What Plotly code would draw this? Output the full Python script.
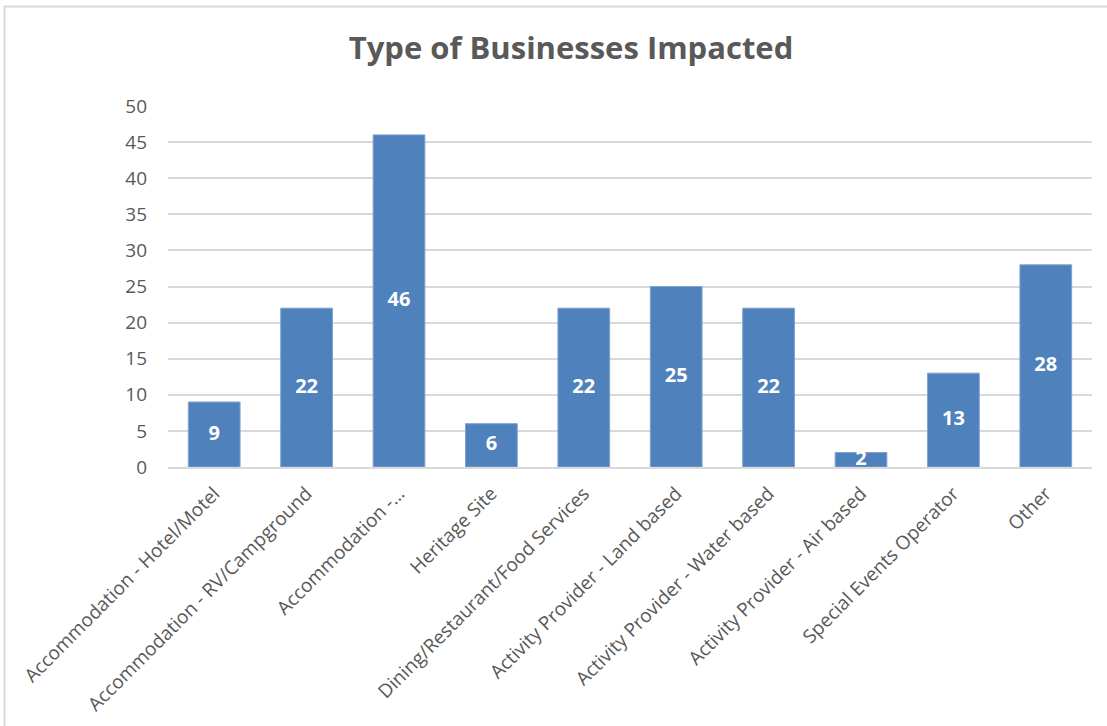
import plotly.graph_objects as go

# Business categories and the number impacted in each
categories = [
    "Accommodation - Hotel/Motel",
    "Accommodation - RV/Campground",
    "Accommodation -…",
    "Heritage Site",
    "Dining/Restaurant/Food Services",
    "Activity Provider - Land based",
    "Activity Provider - Water based",
    "Activity Provider - Air based",
    "Special Events Operator",
    "Other",
]
counts = [9, 22, 46, 6, 22, 25, 22, 2, 13, 28]

y_ticks = [0, 5, 10, 15, 20, 25, 30, 35, 40, 45, 50]

W, H = 1107, 726
L, R, T, B = 168, 15, 106, 259
pw, ph = W - L - R, H - T - B

def px_x(px):
    return (px - L) / pw

def px_y(py):
    return (H - B - py) / ph

GRAY = "#595959"
BLUE = "#4F81BD"
FONT = "Open Sans"

fig = go.Figure()
fig.add_trace(go.Bar(
    x=categories,
    y=counts,
    marker=dict(color=BLUE, line=dict(color="#7ea3d1", width=1)),
    hoverinfo="x+y",
))
# value labels centred on each bar
fig.add_trace(go.Scatter(
    x=categories,
    y=[v / 2 for v in counts],
    text=[str(v) for v in counts],
    mode="text",
    textfont=dict(family=FONT, size=20, color="white", weight="bold"),
    hoverinfo="skip",
))

fig.update_layout(
    width=W,
    height=H,
    margin=dict(l=L, r=R, t=T, b=B),
    paper_bgcolor="white",
    plot_bgcolor="white",
    showlegend=False,
    bargap=0.44,
    font=dict(family=FONT, color=GRAY),
    title=dict(
        text="<b>Type of Businesses Impacted</b>",
        font=dict(family=FONT, size=31, color=GRAY),
        x=px_x(571),
        xref="paper",
        xanchor="center",
        y=1 - 48 / H,
        yref="container",
        yanchor="middle",
    ),
    xaxis=dict(
        tickangle=-45,
        tickfont=dict(family=FONT, size=19, color=GRAY),
        showgrid=False,
        showline=True,
        linecolor="#d9d9d9",
        linewidth=2,
        ticks="",
        ticklabelstandoff=6,
        automargin=False,
        fixedrange=True,
    ),
    yaxis=dict(
        range=[0, 50],
        tickvals=y_ticks,
        tickfont=dict(family=FONT, size=19, color=GRAY),
        showgrid=True,
        gridcolor="#d9d9d9",
        gridwidth=1.5,
        zeroline=False,
        showline=False,
        ticks="",
        ticklabelstandoff=20,
        automargin=False,
        fixedrange=True,
    ),
    shapes=[
        dict(
            type="rect",
            xref="paper",
            yref="paper",
            x0=px_x(4.5),
            x1=px_x(1150),
            y0=px_y(760),
            y1=px_y(6.5),
            line=dict(color="#d9d9d9", width=2),
            fillcolor="rgba(0,0,0,0)",
            layer="below",
        )
    ],
)

fig.write_html("out.html")
